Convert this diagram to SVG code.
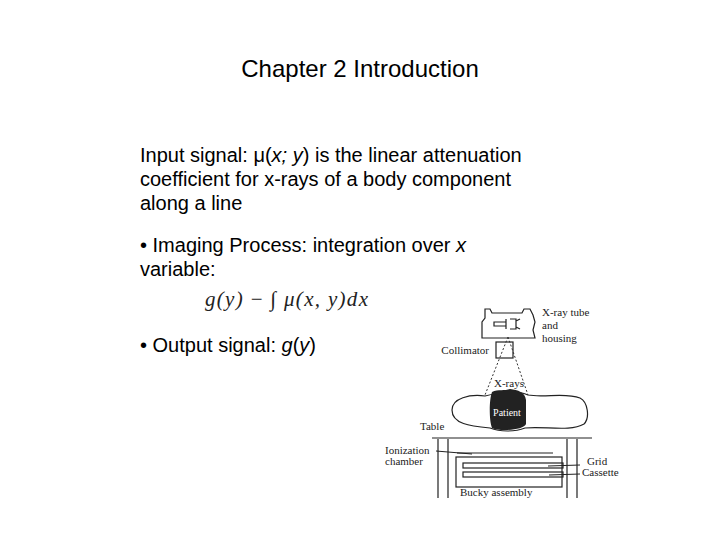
<svg xmlns="http://www.w3.org/2000/svg" width="720" height="540" viewBox="0 0 720 540">
<style>
.t{font-family:"Liberation Sans",Arial,sans-serif;font-size:20px;fill:#000}
.m{font-family:"Liberation Serif","Times New Roman",serif;font-size:21px;font-style:italic;fill:#222}
.s{font-family:"Liberation Serif","Times New Roman",serif;font-size:11px;fill:#222}
.l{fill:none;stroke:#222;stroke-width:1.2}
</style>
<rect width="720" height="540" fill="#fff"/>
<text x="360" y="77" text-anchor="middle" font-family="Liberation Sans,Arial,sans-serif" font-size="24">Chapter 2 Introduction</text>
<g id="text">
<text class="t" x="140" y="162">Input signal: μ(<tspan font-style="italic">x; y</tspan>) is the linear attenuation</text>
<text class="t" x="140" y="186">coefficient for x-rays of a body component</text>
<text class="t" x="140" y="210">along a line</text>
<text class="t" x="140" y="252">• Imaging Process: integration over <tspan font-style="italic">x</tspan></text>
<text class="t" x="140" y="276">variable:</text>
<text class="m" x="205" y="306" textLength="163">g(y) <tspan font-style="normal">−</tspan> ∫ μ(x, y)dx</text>
<text class="t" x="140" y="352">• Output signal: <tspan font-style="italic">g</tspan>(<tspan font-style="italic">y</tspan>)</text>
</g>
<g id="figure">
<path class="l" d="M482,338 V322 L485,318 V309 H490 L492,313 H522 L524,309 H530 L533,315 L535,322 L533,330 L535,338 Z"/>
<path class="l" d="M494,322 h12 v4 h-12 z M506,319 v10 M510,319 h6 v10 h-6 M516,321 l4,-2 M516,327 l4,2"/>
<rect class="l" x="496" y="342" width="17" height="16"/>
<path d="M508,337 L485,395 M508,337 L528,395" stroke="#333" stroke-dasharray="2,2" fill="none"/>
<path class="l" d="M485,396 C470,394 452,398 452,410 C452,424 470,426 490,428 C500,432 515,432 525,428 C545,426 570,432 584,424 C590,418 588,402 580,398 C565,392 545,398 528,395 C520,391 505,391 485,396 Z"/>
<path d="M492,392 C498,389 505,391 510,389 C518,390 525,392 526,400 V424 C524,430 500,432 492,428 C489,420 489,400 492,392 Z" fill="#222"/>
<text x="507" y="416" text-anchor="middle" font-family="Liberation Serif,serif" font-size="10" fill="#fff">Patient</text>
<path class="l" d="M432,438 H592 M438,439 V498 M448,439 V498 M567,439 V498 M577,439 V498"/>
<rect class="l" x="456" y="457" width="106" height="30"/>
<path class="l" d="M457,453 H553"/>
<rect class="l" x="463" y="463" width="100" height="5"/>
<rect class="l" x="463" y="472" width="100" height="5"/>
<path d="M436,451 L472,454 M548,466 L580,465 M549,475 L580,474" stroke="#222" fill="none"/>
<text class="s" x="542" y="316">X-ray tube</text>
<text class="s" x="542" y="329">and</text>
<text class="s" x="542" y="342">housing</text>
<text class="s" x="489" y="354" text-anchor="end">Collimator</text>
<text class="s" x="494" y="387">X-rays</text>
<text class="s" x="420" y="430">Table</text>
<text class="s" x="385" y="454">Ionization</text>
<text class="s" x="385" y="465">chamber</text>
<text class="s" x="587" y="465">Grid</text>
<text class="s" x="582" y="476">Cassette</text>
<text class="s" x="460" y="496">Bucky assembly</text>
</g>
</svg>
